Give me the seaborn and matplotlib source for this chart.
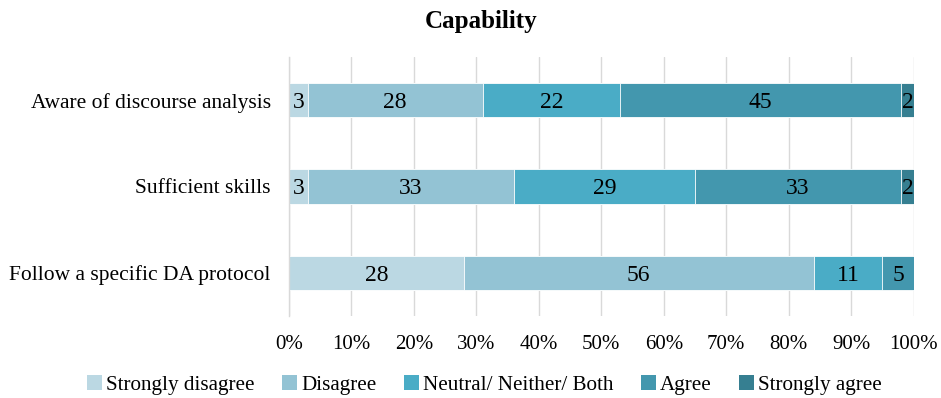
import numpy as np
import pandas as pd
import matplotlib
matplotlib.use("Agg")
import matplotlib.pyplot as plt
from matplotlib.patches import Patch
from matplotlib.ticker import PercentFormatter
from matplotlib.font_manager import FontProperties
import seaborn as sns

items = ["Aware of discourse analysis", "Sufficient skills", "Follow a specific DA protocol"]
levels = ["Strongly disagree", "Disagree", "Neutral/ Neither/ Both", "Agree", "Strongly agree"]
strongly_disagree = [3, 3, 28]
disagree = [28, 33, 56]
neutral = [22, 29, 11]
agree = [45, 33, 5]
strongly_agree = [2, 2, 0]
palette = ["#BBD8E3", "#93C3D4", "#4AACC6", "#4397AE", "#367F91"]

sns.set_theme(style="white")
serif = ["Liberation Serif", "DejaVu Serif"]
plt.rcParams["font.family"] = serif
plt.rcParams["text.color"] = "black"

series = [strongly_disagree, disagree, neutral, agree, strongly_agree]
values = np.array(series, dtype=float)
cum = np.cumsum(values, axis=0)

fig = plt.figure(figsize=(9.41, 3.98), dpi=100)
ax = fig.add_axes([0.307, 0.206, 0.664, 0.651])

# Draw cumulative totals from the outermost level inward so each segment overlays the next
for i in range(len(levels) - 1, -1, -1):
    df = pd.DataFrame({"item": items, "total": cum[i]})
    sns.barplot(data=df, x="total", y="item", order=items, orient="h",
                color=palette[i], saturation=1, width=0.4,
                edgecolor="white", linewidth=0.6, ax=ax, zorder=2)

# Value labels centred in each segment
for i, lvl in enumerate(levels):
    for j, item in enumerate(items):
        v = values[i, j]
        if v <= 0:
            continue
        centre = cum[i, j] - v / 2
        ax.text(centre, j, f"{int(v)}", ha="center", va="center_baseline",
                fontsize=17, color="black", zorder=3)

ax.set_xlim(0, 100)
ax.set_ylim(2.5, -0.5)
ax.set_xticks(np.arange(0, 101, 10))
ax.xaxis.set_major_formatter(PercentFormatter(decimals=0))
ax.grid(axis="x", color="#D9D9D9", linewidth=1, zorder=0)
ax.set_axisbelow(True)
for side in ["top", "right", "bottom"]:
    ax.spines[side].set_visible(False)
ax.spines["left"].set_color("#D9D9D9")
ax.spines["left"].set_linewidth(1)
ax.set_xlabel("")
ax.set_ylabel("")
ax.tick_params(axis="both", length=0, colors="black")
ax.tick_params(axis="x", labelsize=15, pad=14)
ax.tick_params(axis="y", labelsize=15.5, pad=13)

fig.suptitle("Capability", x=0.511, fontsize=18, fontweight="bold", y=0.975,
             color="black")

handles = [Patch(facecolor=c, edgecolor="none") for c in palette]
fig.legend(handles, levels, loc="lower center", bbox_to_anchor=(0.515, -0.04),
           ncol=5, frameon=False, prop=FontProperties(family=serif, size=15.2),
           handlelength=0.7, handleheight=0.7, handletextpad=0.2,
           columnspacing=1.3)

fig.savefig("out.png", dpi=100)
